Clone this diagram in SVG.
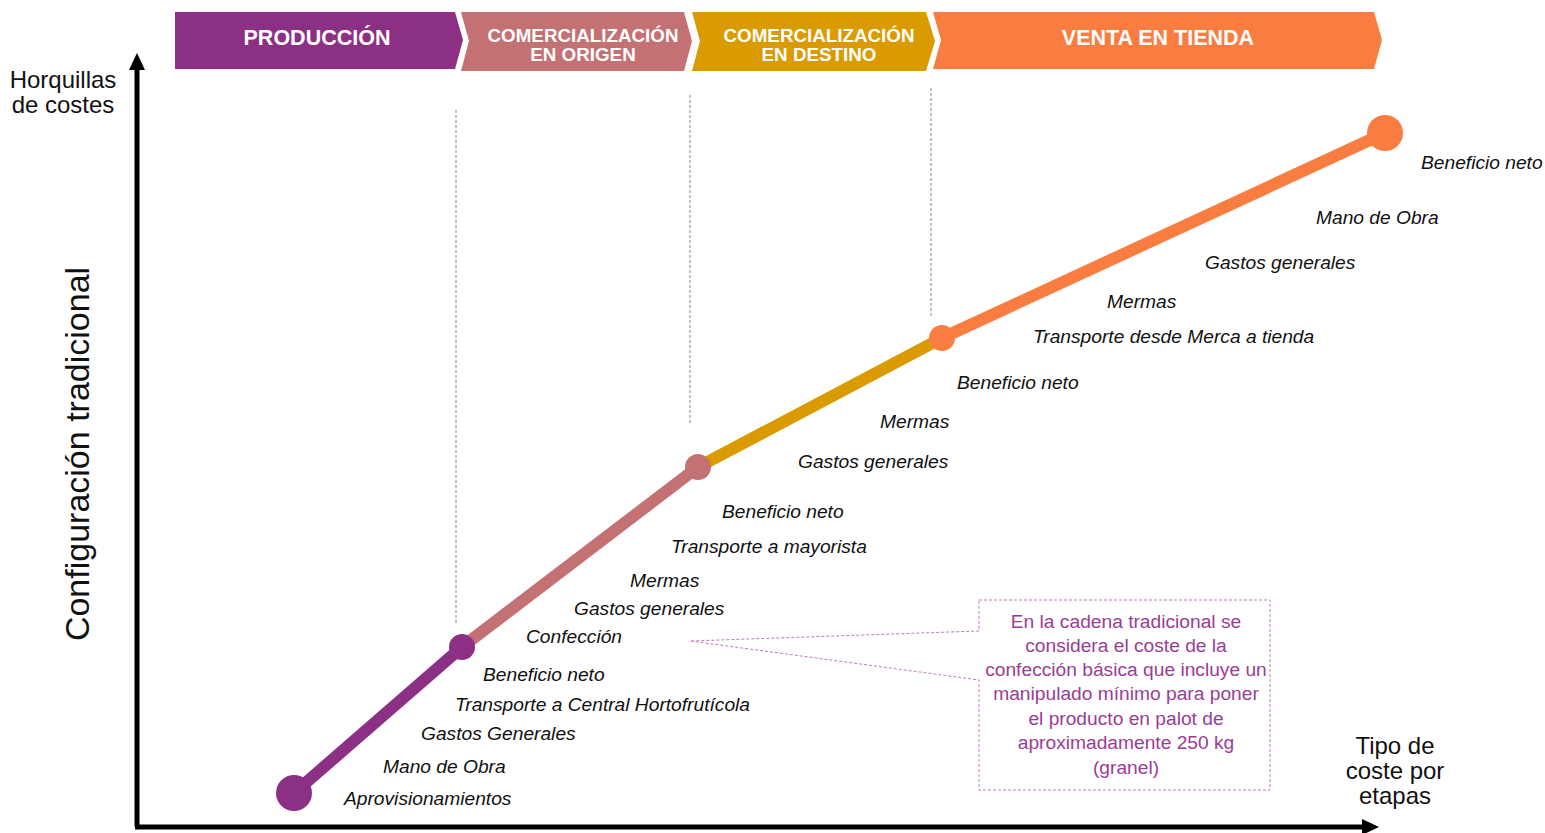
<svg xmlns="http://www.w3.org/2000/svg" width="1545" height="833" viewBox="0 0 1545 833">
<style>
.hdr{font-family:"Liberation Sans",Arial,sans-serif;font-weight:bold;fill:#fff;text-anchor:middle}
.h1{font-size:21.5px}
.h2{font-size:18.8px}
.lbl{font-family:"Liberation Sans",Arial,sans-serif;font-style:italic;font-size:19.2px;fill:#111}
.ax{font-family:"Liberation Sans",Arial,sans-serif;font-size:24px;fill:#111;text-anchor:middle}
.ylab{font-size:34px}
.note{font-family:"Liberation Sans",Arial,sans-serif;font-size:19.2px;fill:#9B3C96;text-anchor:middle}
.guide{stroke:#888;stroke-width:1;stroke-dasharray:3,2;fill:none}
.seg{stroke-width:12;stroke-linecap:round;fill:none}
</style>
<rect width="1545" height="833" fill="#fff"/>
<g id="stage-produccion">
<polygon points="175,12 455,12 463,40 455,69 175,69" fill="#8C3085"/>
<text class="hdr h1" x="317" y="45">PRODUCCIÓN</text>
</g>
<g id="stage-origen">
<polygon points="461,12 684,12 692,41 684,71 461,71 469,41" fill="#C47174"/>
<text class="hdr h2" x="583" y="42">COMERCIALIZACIÓN</text>
<text class="hdr h2" x="583" y="61">EN ORIGEN</text>
</g>
<g id="stage-destino">
<polygon points="692,12 926,12 935,41 926,71 692,71 700,41" fill="#D99B00"/>
<text class="hdr h2" x="819" y="42">COMERCIALIZACIÓN</text>
<text class="hdr h2" x="819" y="61">EN DESTINO</text>
</g>
<g id="stage-venta">
<polygon points="933,12 1374,12 1382,40 1374,69 933,69 941,40" fill="#F97C40"/>
<text class="hdr h1" x="1158" y="45">VENTA EN TIENDA</text>
</g>
<g id="axes">
<line x1="137" y1="68" x2="137" y2="827" stroke="#000" stroke-width="5"/>
<polygon points="137,53 129,70 145,70" fill="#000"/>
<line x1="135" y1="827" x2="1364" y2="827" stroke="#000" stroke-width="5"/>
<polygon points="1379,827 1362,819 1362,835" fill="#000"/>
<text class="ax" x="63" y="88">Horquillas</text>
<text class="ax" x="63" y="113">de costes</text>
<text class="ax" x="1395" y="754">Tipo de</text>
<text class="ax" x="1395" y="779">coste por</text>
<text class="ax" x="1395" y="804">etapas</text>
<text class="ax ylab" transform="translate(89,454) rotate(-90)">Configuración tradicional</text>
</g>
<g id="guides">
<line class="guide" x1="456" y1="110" x2="456" y2="625"/>
<line class="guide" x1="690" y1="95" x2="690" y2="425"/>
<line class="guide" x1="931" y1="88" x2="931" y2="318"/>
</g>
<g id="connectors">
<line class="seg" x1="294" y1="793" x2="462" y2="647" stroke="#8C3085"/>
<line class="seg" x1="462" y1="647" x2="698" y2="467" stroke="#C47174"/>
<line class="seg" x1="698" y1="467" x2="942" y2="338" stroke="#D99B00"/>
<line class="seg" x1="942" y1="338" x2="1385" y2="133" stroke="#F97C40"/>
</g>
<g id="points">
<circle cx="294" cy="793" r="18" fill="#8C3085"/>
<circle cx="462" cy="647" r="13" fill="#8C3085"/>
<circle cx="698" cy="467" r="13" fill="#C47174"/>
<circle cx="942" cy="338" r="13" fill="#F97C40"/>
<circle cx="1385" cy="133" r="18" fill="#F97C40"/>
</g>
<g id="labels">
<text class="lbl" x="344" y="805">Aprovisionamientos</text>
<text class="lbl" x="383" y="773">Mano de Obra</text>
<text class="lbl" x="421" y="740">Gastos Generales</text>
<text class="lbl" x="455" y="711">Transporte a Central Hortofrutícola</text>
<text class="lbl" x="483" y="681">Beneficio neto</text>
<text class="lbl" x="526" y="643">Confección</text>
<text class="lbl" x="574" y="615">Gastos generales</text>
<text class="lbl" x="630" y="587">Mermas</text>
<text class="lbl" x="671" y="553">Transporte a mayorista</text>
<text class="lbl" x="722" y="518">Beneficio neto</text>
<text class="lbl" x="798" y="468">Gastos generales</text>
<text class="lbl" x="880" y="428">Mermas</text>
<text class="lbl" x="957" y="389">Beneficio neto</text>
<text class="lbl" x="1033" y="343">Transporte desde Merca a tienda</text>
<text class="lbl" x="1107" y="308">Mermas</text>
<text class="lbl" x="1205" y="269">Gastos generales</text>
<text class="lbl" x="1316" y="224">Mano de Obra</text>
<text class="lbl" x="1421" y="169">Beneficio neto</text>
</g>
<g id="callout">
<path d="M979,600 H1270 V790 H979 V680 L690,641 L979,631 Z" fill="none" stroke="#C07BC0" stroke-width="1" stroke-dasharray="3,2"/>
<text class="note" x="1126" y="628">En la cadena tradicional se</text>
<text class="note" x="1126" y="652">considera el coste de la</text>
<text class="note" x="1126" y="676">confección básica que incluye un</text>
<text class="note" x="1126" y="700">manipulado mínimo para poner</text>
<text class="note" x="1126" y="725">el producto en palot de</text>
<text class="note" x="1126" y="749">aproximadamente 250 kg</text>
<text class="note" x="1126" y="774">(granel)</text>
</g>
</svg>
